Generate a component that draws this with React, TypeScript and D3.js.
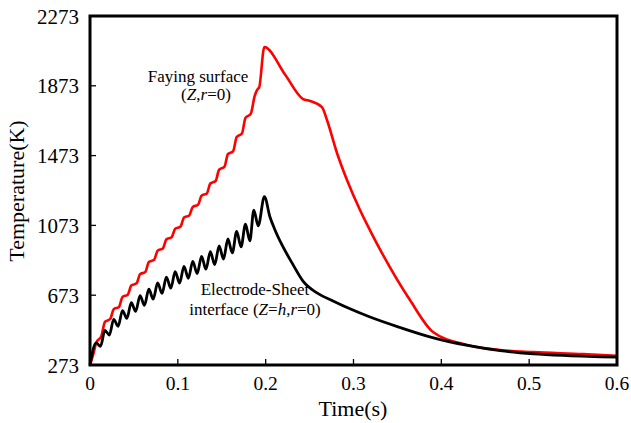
import React from "react";
import * as d3 from "d3";

// Faying surface (Z, r=0) — red
const redTime = [0, 0.004, 0.007, 0.013, 0.017, 0.023, 0.027, 0.033, 0.037, 0.043, 0.047, 0.053, 0.057, 0.063, 0.067, 0.073, 0.077, 0.083, 0.087, 0.093, 0.097, 0.103, 0.107, 0.113, 0.117, 0.123, 0.127, 0.133, 0.137, 0.143, 0.147, 0.153, 0.157, 0.163, 0.167, 0.173, 0.177, 0.183, 0.1875, 0.191, 0.1925, 0.1985, 0.222, 0.2425, 0.2505, 0.2641, 0.2698, 0.2812, 0.2926, 0.3074, 0.3188, 0.3643, 0.3905, 0.4292, 0.4668, 0.5044, 0.5613, 0.6];
const redTemp = [273, 340, 400, 440, 520, 537, 593, 606, 663, 676, 728, 741, 793, 806, 863, 876, 928, 941, 993, 1005, 1054, 1066, 1118, 1130, 1179, 1191, 1243, 1256, 1313, 1327, 1392, 1408, 1481, 1499, 1580, 1600, 1689, 1712, 1815, 1855, 1862, 2095, 1938, 1797, 1786, 1751, 1677, 1488, 1333, 1161, 1045, 645, 462, 388, 359, 347, 336, 326];

// Electrode-Sheet interface (Z=h, r=0) — black
const blackTime = [0, 0.007, 0.012, 0.017, 0.022, 0.027, 0.032, 0.037, 0.042, 0.047, 0.052, 0.057, 0.062, 0.067, 0.072, 0.077, 0.082, 0.087, 0.092, 0.097, 0.102, 0.107, 0.112, 0.117, 0.122, 0.127, 0.132, 0.137, 0.142, 0.147, 0.152, 0.157, 0.162, 0.167, 0.172, 0.177, 0.182, 0.1865, 0.1915, 0.1985, 0.2049, 0.2106, 0.2186, 0.23, 0.2425, 0.2584, 0.2767, 0.296, 0.3188, 0.353, 0.39, 0.43, 0.467, 0.505, 0.543, 0.6];
const blackTemp = [273, 400, 380, 472, 445, 535, 495, 585, 540, 630, 580, 670, 615, 707, 650, 743, 683, 777, 713, 808, 742, 838, 770, 867, 797, 895, 822, 922, 848, 955, 880, 995, 915, 1038, 950, 1080, 985, 1160, 1070, 1238, 1121, 1047, 961, 858, 754, 686, 640, 595, 548, 488, 430, 385, 355, 337, 327, 318];

const xTicks = [0, 0.1, 0.2, 0.3, 0.4, 0.5, 0.6];
const xTickLabels = ["0", "0.1", "0.2", "0.3", "0.4", "0.5", "0.6"];
const yTicks = [273, 673, 1073, 1473, 1873, 2273];
const yTickLabels = ["273", "673", "1073", "1473", "1873", "2273"];

const FONT = "'Liberation Serif', 'Times New Roman', serif";

export default function App() {
  const left = 90, right = 617, top = 16, bottom = 365;
  const x = d3.scaleLinear().domain([0, 0.6]).range([left, right]);
  const y = d3.scaleLinear().domain([273, 2273]).range([bottom, top]);

  const makePath = (ts: number[], vs: number[]) =>
    d3
      .line<[number, number]>()
      .x((d) => x(d[0]))
      .y((d) => y(d[1]))
      .curve(d3.curveMonotoneX)(ts.map((t, i) => [t, vs[i]] as [number, number])) || "";

  return (
    <svg
      width={631}
      height={423}
      style={{ position: "absolute", left: 0, top: 0, background: "#fff" }}
      fontFamily={FONT}
    >
      <rect x={0} y={0} width={631} height={423} fill="#fff" />
      <path d={makePath(redTime, redTemp)} fill="none" stroke="#ff0000" strokeWidth={2.6} strokeLinejoin="round" />
      <path d={makePath(blackTime, blackTemp)} fill="none" stroke="#000" strokeWidth={2.8} strokeLinejoin="round" />

      {/* ticks inside */}
      {xTicks.slice(1, -1).map((t) => (
        <line key={"xt" + t} x1={x(t)} x2={x(t)} y1={bottom} y2={bottom - 6} stroke="#000" strokeWidth={1.3} />
      ))}
      {yTicks.slice(1, -1).map((v) => (
        <line key={"yt" + v} x1={left} x2={left + 6} y1={y(v)} y2={y(v)} stroke="#000" strokeWidth={1.3} />
      ))}

      {/* frame */}
      <rect x={left} y={top} width={right - left} height={bottom - top} fill="none" stroke="#000" strokeWidth={3} />

      {/* tick labels */}
      {xTicks.map((t, i) => (
        <text key={"xl" + t} x={x(t)} y={390} fontSize={19.5} textAnchor="middle" fill="#000">
          {xTickLabels[i]}
        </text>
      ))}
      {yTicks.map((v, i) => (
        <text key={"yl" + v} x={79} y={y(v) + 7.5} fontSize={21} textAnchor="end" fill="#000">
          {yTickLabels[i]}
        </text>
      ))}

      {/* axis titles */}
      <text x={353} y={416} fontSize={22} textAnchor="middle" fill="#000">
        Time(s)
      </text>
      <text transform={`translate(24, 191) rotate(-90)`} fontSize={22} textAnchor="middle" fill="#000">
        Temperature(K)
      </text>

      {/* annotations */}
      <text x={198} y={82} fontSize={17} textAnchor="middle" fill="#000">
        Faying surface
      </text>
      <text x={206} y={100} fontSize={17} textAnchor="middle" fill="#000">
        (<tspan fontStyle="italic">Z</tspan>,<tspan fontStyle="italic">r</tspan>=0)
      </text>
      <text x={255} y={295} fontSize={17} textAnchor="middle" fill="#000">
        Electrode-Sheet
      </text>
      <text x={255} y={315} fontSize={17} textAnchor="middle" fill="#000">
        interface (<tspan fontStyle="italic">Z</tspan>=<tspan fontStyle="italic">h</tspan>,<tspan fontStyle="italic">r</tspan>=0)
      </text>
    </svg>
  );
}
